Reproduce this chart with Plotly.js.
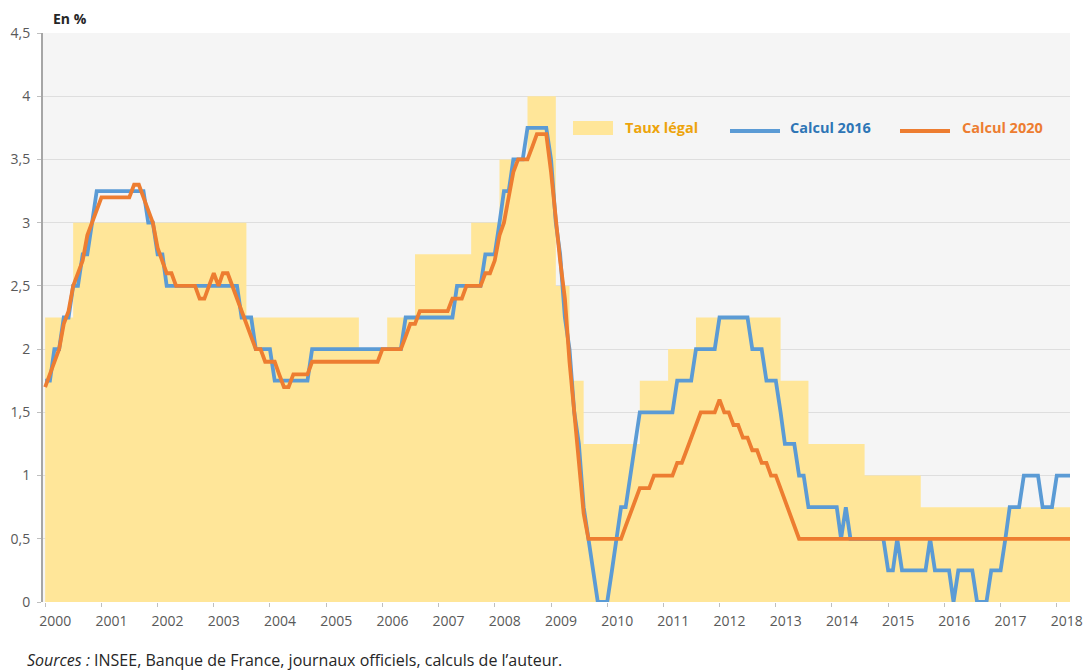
<!DOCTYPE html>
<html>
<head>
<meta charset="utf-8">
<script src="https://cdn.plot.ly/plotly-3.0.1.min.js"></script>
<style>html,body{margin:0;padding:0;background:#fff;}#chart{width:1087px;height:672px;}</style>
</head>
<body>
<div id="chart"></div>
<script>
// Taux légal du Livret A (step changes: first month of each new rate)
const legalDates = ["2000-01-01","2000-07-01","2003-08-01","2005-08-01","2006-02-01","2006-08-01","2007-08-01","2008-02-01","2008-08-01","2009-02-01","2009-05-01","2009-08-01","2010-08-01","2011-02-01","2011-08-01","2013-02-01","2013-08-01","2014-08-01","2015-08-01","2018-05-01"];
const legalRates = [2.25,3,2.25,2,2.25,2.75,3,3.5,4,2.5,1.75,1.25,1.75,2,2.25,1.75,1.25,1,0.75,0.75];

// Monthly series, January 2000 to April 2018
const startYear = 2000;
const calcul2016 = [
  1.75,1.75,2,2,2.25,2.25,2.5,2.5,2.75,2.75,3,3.25,
  3.25,3.25,3.25,3.25,3.25,3.25,3.25,3.25,3.25,3.25,3,3,
  2.75,2.75,2.5,2.5,2.5,2.5,2.5,2.5,2.5,2.5,2.5,2.5,
  2.5,2.5,2.5,2.5,2.5,2.5,2.25,2.25,2.25,2,2,2,
  2,1.75,1.75,1.75,1.75,1.75,1.75,1.75,1.75,2,2,2,
  2,2,2,2,2,2,2,2,2,2,2,2,
  2,2,2,2,2,2.25,2.25,2.25,2.25,2.25,2.25,2.25,
  2.25,2.25,2.25,2.25,2.5,2.5,2.5,2.5,2.5,2.5,2.75,2.75,
  2.75,3,3.25,3.25,3.5,3.5,3.5,3.75,3.75,3.75,3.75,3.75,
  3.5,3,2.75,2.25,2,1.5,1.25,0.75,0.5,0.25,0,0,
  0,0.25,0.5,0.75,0.75,1,1.25,1.5,1.5,1.5,1.5,1.5,
  1.5,1.5,1.5,1.75,1.75,1.75,1.75,2,2,2,2,2,
  2.25,2.25,2.25,2.25,2.25,2.25,2.25,2,2,2,1.75,1.75,
  1.75,1.5,1.25,1.25,1.25,1,1,0.75,0.75,0.75,0.75,0.75,
  0.75,0.75,0.5,0.75,0.5,0.5,0.5,0.5,0.5,0.5,0.5,0.5,
  0.25,0.25,0.5,0.25,0.25,0.25,0.25,0.25,0.25,0.5,0.25,0.25,
  0.25,0.25,0,0.25,0.25,0.25,0.25,0,0,0,0.25,0.25,
  0.25,0.5,0.75,0.75,0.75,1,1,1,1,0.75,0.75,0.75,
  1,1,1,1
];
const calcul2020 = [
  1.7,1.8,1.9,2.0,2.2,2.3,2.5,2.6,2.7,2.9,3.0,3.1,
  3.2,3.2,3.2,3.2,3.2,3.2,3.2,3.3,3.3,3.2,3.1,3.0,
  2.8,2.7,2.6,2.6,2.5,2.5,2.5,2.5,2.5,2.4,2.4,2.5,
  2.6,2.5,2.6,2.6,2.5,2.4,2.3,2.2,2.1,2.0,2.0,1.9,
  1.9,1.9,1.8,1.7,1.7,1.8,1.8,1.8,1.8,1.9,1.9,1.9,
  1.9,1.9,1.9,1.9,1.9,1.9,1.9,1.9,1.9,1.9,1.9,1.9,
  2.0,2.0,2.0,2.0,2.0,2.1,2.2,2.2,2.3,2.3,2.3,2.3,
  2.3,2.3,2.3,2.4,2.4,2.4,2.5,2.5,2.5,2.5,2.6,2.6,
  2.7,2.9,3.0,3.2,3.4,3.5,3.5,3.5,3.6,3.7,3.7,3.7,
  3.4,3.0,2.7,2.4,1.9,1.5,1.1,0.7,0.5,0.5,0.5,0.5,
  0.5,0.5,0.5,0.5,0.6,0.7,0.8,0.9,0.9,0.9,1.0,1.0,
  1.0,1.0,1.0,1.1,1.1,1.2,1.3,1.4,1.5,1.5,1.5,1.5,
  1.6,1.5,1.5,1.4,1.4,1.3,1.3,1.2,1.2,1.1,1.1,1.0,
  1.0,0.9,0.8,0.7,0.6,0.5,0.5,0.5,0.5,0.5,0.5,0.5,
  0.5,0.5,0.5,0.5,0.5,0.5,0.5,0.5,0.5,0.5,0.5,0.5,
  0.5,0.5,0.5,0.5,0.5,0.5,0.5,0.5,0.5,0.5,0.5,0.5,
  0.5,0.5,0.5,0.5,0.5,0.5,0.5,0.5,0.5,0.5,0.5,0.5,
  0.5,0.5,0.5,0.5,0.5,0.5,0.5,0.5,0.5,0.5,0.5,0.5,
  0.5,0.5,0.5,0.5
];
const yearLabels = ["2000","2001","2002","2003","2004","2005","2006","2007","2008","2009","2010","2011","2012","2013","2014","2015","2016","2017","2018"];
const seriesNames = ["Taux légal","Calcul 2016","Calcul 2020"];
const seriesColors = ["#FFE699","#5B9BD5","#ED7D31"];
const legendTextColors = ["#EDA40B","#2E75B6","#ED7D31"];

// month categories
const months = calcul2016.map((_, i) => {
  const y = startYear + Math.floor(i / 12);
  const m = (i % 12) + 1;
  return y + "-" + (m < 10 ? "0" + m : m) + "-01";
});
const yearTicks = yearLabels.map(y => y + "-01-01");

const FONT = "Open Sans, Liberation Sans, sans-serif";
const L = 43, R = 1070, T = 33, B = 602;
const px = x => (x - L) / (R - L);
const py = y => (B - y) / (B - T);

const traces = [
  {x: legalDates, y: legalRates, type: "scatter", mode: "lines", line: {shape: "hv", width: 0, color: seriesColors[0]},
   fill: "tozeroy", fillcolor: seriesColors[0], name: seriesNames[0], hoverinfo: "skip"},
  {x: months, y: calcul2016, type: "scatter", mode: "lines", line: {color: seriesColors[1], width: 3.8}, name: seriesNames[1]},
  {x: months, y: calcul2020, type: "scatter", mode: "lines", line: {color: seriesColors[2], width: 3.8}, name: seriesNames[2]}
];

const shapes = [
  {type: "rect", xref: "paper", yref: "paper", x0: px(573), x1: px(613), y0: py(135), y1: py(121), fillcolor: seriesColors[0], line: {width: 0}},
  {type: "line", xref: "paper", yref: "paper", x0: px(730), x1: px(780), y0: py(131), y1: py(131), line: {color: seriesColors[1], width: 4}},
  {type: "line", xref: "paper", yref: "paper", x0: px(900), x1: px(950), y0: py(131), y1: py(131), line: {color: seriesColors[2], width: 4}}
];

const annotations = [
  {xref: "paper", yref: "paper", x: px(623), y: py(127), xanchor: "left", yanchor: "middle", showarrow: false,
   text: "<b>" + seriesNames[0] + "</b>", font: {family: FONT, size: 14.5, color: legendTextColors[0]}},
  {xref: "paper", yref: "paper", x: px(788), y: py(127), xanchor: "left", yanchor: "middle", showarrow: false,
   text: "<b>" + seriesNames[1] + "</b>", font: {family: FONT, size: 14.5, color: legendTextColors[1]}},
  {xref: "paper", yref: "paper", x: px(960), y: py(127), xanchor: "left", yanchor: "middle", showarrow: false,
   text: "<b>" + seriesNames[2] + "</b>", font: {family: FONT, size: 14.5, color: legendTextColors[2]}},
  {xref: "paper", yref: "paper", x: px(51), y: py(18), xanchor: "left", yanchor: "middle", showarrow: false,
   text: "<b>En %</b>", font: {family: FONT, size: 14, color: "#262626"}},
  {xref: "paper", yref: "paper", x: px(25), y: py(660), xanchor: "left", yanchor: "middle", showarrow: false,
   text: "<i>Sources :</i> INSEE, Banque de France, journaux officiels, calculs de l\u2019auteur.", font: {family: FONT, size: 16, color: "#262626"}}
];

const layout = {
  width: 1087, height: 672,
  margin: {l: L, r: 1087 - R, t: T, b: 672 - B, pad: 0},
  paper_bgcolor: "#FFFFFF", plot_bgcolor: "#F5F5F5",
  separators: ", ",
  showlegend: false,
  font: {family: FONT, size: 14, color: "#595959"},
  xaxis: {
    type: "date", range: ["1999-12-18", "2018-03-28"],
    tickmode: "array", tickvals: yearTicks, ticktext: yearLabels,
    ticks: "outside", ticklen: 4, tickcolor: "#BFBFBF", tickwidth: 1,
    ticklabelshift: 10, ticklabelstandoff: 2,
    showgrid: false, showline: false, zeroline: false, automargin: false,
    tickfont: {family: FONT, size: 14, color: "#595959"}
  },
  yaxis: {
    range: [0, 4.5], tick0: 0, dtick: 0.5, tickmode: "linear",
    ticks: "outside", ticklen: 4, tickcolor: "#BFBFBF",
    showgrid: true, gridcolor: "#DEDEDE", gridwidth: 1,
    showline: true, linecolor: "#A6A6A6", linewidth: 2,
    zeroline: false, automargin: false, ticklabelstandoff: 4,
    tickfont: {family: FONT, size: 14, color: "#595959"}
  },
  shapes: shapes,
  annotations: annotations
};

Plotly.newPlot("chart", traces, layout, {staticPlot: true, displayModeBar: false});
</script>
</body>
</html>
